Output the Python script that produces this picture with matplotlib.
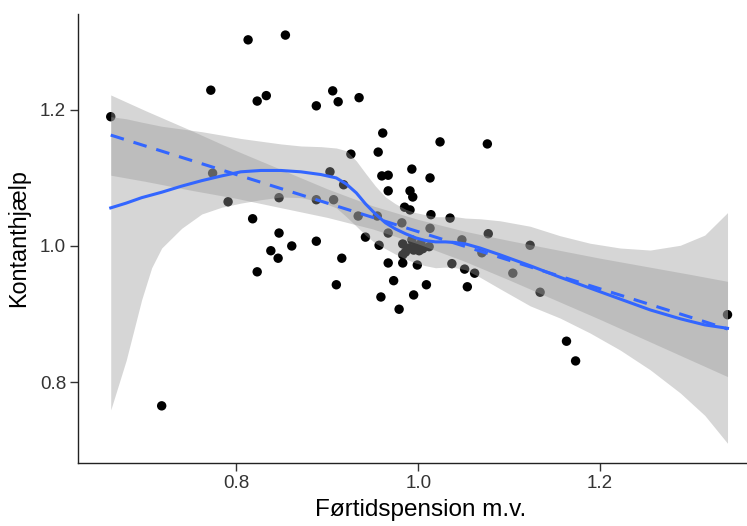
import matplotlib
matplotlib.use("Agg")
import matplotlib.pyplot as plt

plt.rcParams['font.family'] = ['Liberation Sans', 'DejaVu Sans']

# ---- scatter data (Førtidspension m.v. vs Kontanthjælp) ----
pts_x = [0.662, 0.813, 0.854, 0.772, 0.823, 0.833, 0.888, 0.906, 0.912, 0.935,
         0.774, 0.791, 0.818, 0.847, 0.847, 0.861, 0.838, 0.846, 0.823, 0.888,
         0.888, 0.903, 0.918, 0.926, 0.956, 0.961, 0.960, 0.967, 0.993, 1.013,
         0.967, 0.991, 0.994, 0.985, 0.991, 1.014, 1.035, 1.024, 1.076, 0.907,
         0.934, 0.955, 0.967, 0.982, 1.013, 0.916, 0.910, 0.942, 0.957, 0.967,
         0.973, 0.959, 0.979, 0.995, 0.999, 1.009, 0.983, 0.983, 1.037, 1.051,
         1.062, 1.054, 1.048, 1.070, 1.077, 1.104, 1.123, 1.134, 1.163, 1.173,
         1.340, 0.718, 0.983, 0.990, 0.995, 1.001, 1.005, 1.012, 0.993, 1.003,
         0.986, 0.998]
pts_y = [1.190, 1.303, 1.310, 1.229, 1.213, 1.221, 1.206, 1.228, 1.212, 1.218,
         1.107, 1.065, 1.040, 1.071, 1.019, 1.000, 0.993, 0.982, 0.962, 1.007,
         1.068, 1.109, 1.090, 1.135, 1.138, 1.166, 1.103, 1.104, 1.113, 1.100,
         1.081, 1.081, 1.072, 1.057, 1.053, 1.046, 1.041, 1.153, 1.150, 1.068,
         1.044, 1.044, 1.019, 1.034, 1.026, 0.982, 0.943, 1.013, 1.001, 0.975,
         0.949, 0.925, 0.907, 0.928, 0.972, 0.943, 0.987, 0.975, 0.974, 0.966,
         0.960, 0.940, 1.009, 0.990, 1.018, 0.960, 1.001, 0.932, 0.860, 0.831,
         0.899, 0.765, 1.003, 0.997, 0.994, 0.993, 0.996, 0.999, 1.009, 1.004,
         0.991, 1.000]

# ---- loess smooth (solid) and its confidence band ----
loess_x = [0.662, 0.679, 0.696, 0.707, 0.718, 0.740, 0.762, 0.784, 0.805, 0.827,
           0.849, 0.871, 0.893, 0.910, 0.921, 0.932, 0.942, 0.953, 0.964, 0.975,
           0.986, 0.997, 1.008, 1.019, 1.030, 1.041, 1.052, 1.068, 1.090, 1.123,
           1.156, 1.189, 1.222, 1.255, 1.288, 1.315, 1.340]
loess_fit = [1.056, 1.063, 1.071, 1.075, 1.079, 1.088, 1.096, 1.103, 1.109, 1.111,
             1.111, 1.109, 1.105, 1.100, 1.091, 1.078, 1.062, 1.047, 1.034, 1.025,
             1.018, 1.012, 1.008, 1.006, 1.006, 1.005, 1.003, 0.997, 0.987, 0.971,
             0.954, 0.938, 0.922, 0.906, 0.893, 0.884, 0.879]
loess_hi = [1.190, 1.187, 1.182, 1.179, 1.176, 1.172, 1.168, 1.163, 1.158, 1.154,
            1.150, 1.147, 1.146, 1.144, 1.140, 1.125, 1.107, 1.088, 1.072, 1.062,
            1.054, 1.049, 1.046, 1.043, 1.043, 1.043, 1.041, 1.040, 1.037, 1.029,
            1.015, 1.004, 0.997, 0.994, 1.001, 1.016, 1.049]
loess_lo = [0.759, 0.832, 0.921, 0.968, 0.997, 1.026, 1.047, 1.057, 1.063, 1.068,
            1.072, 1.071, 1.065, 1.056, 1.043, 1.029, 1.016, 1.004, 0.996, 0.988,
            0.981, 0.975, 0.971, 0.968, 0.969, 0.968, 0.965, 0.954, 0.937, 0.912,
            0.894, 0.872, 0.847, 0.818, 0.784, 0.751, 0.710]

# ---- linear fit (dashed) and its confidence band ----
lm_x = [0.662, 0.70, 0.75, 0.80, 0.85, 0.90, 0.95, 1.00, 1.05, 1.10, 1.15, 1.20,
        1.25, 1.30, 1.340]
lm_fit = [1.163, 1.147, 1.126, 1.105, 1.084, 1.063, 1.042, 1.021, 1.000, 0.979,
          0.958, 0.937, 0.916, 0.895, 0.878]
lm_hi = [1.222, 1.199, 1.170, 1.140, 1.112, 1.084, 1.059, 1.039, 1.022, 1.008,
         0.995, 0.982, 0.970, 0.958, 0.948]
lm_lo = [1.104, 1.095, 1.082, 1.070, 1.056, 1.042, 1.025, 1.003, 0.978, 0.950,
         0.921, 0.892, 0.862, 0.832, 0.808]

x_ticks = [0.8, 1.0, 1.2]
y_ticks = [0.8, 1.0, 1.2]
tick_labels_x = ["0.8", "1.0", "1.2"]
tick_labels_y = ["0.8", "1.0", "1.2"]

fig = plt.figure(figsize=(7.47, 5.26), dpi=100)
ax = fig.add_axes([0.1044, 0.1198, 0.917, 0.8536])

blue = "#3366FF"
ax.scatter(pts_x, pts_y, s=46, color="black", edgecolors="none", zorder=2)
ax.fill_between(lm_x, lm_lo, lm_hi, color="#999999", alpha=0.4, linewidth=0, zorder=3)
ax.fill_between(loess_x, loess_lo, loess_hi, color="#999999", alpha=0.4, linewidth=0, zorder=3)
ax.plot(lm_x, lm_fit, color=blue, linewidth=2.2, dashes=(4.5, 3.3), zorder=4,
        solid_capstyle="butt")
ax.plot(loess_x, loess_fit, color=blue, linewidth=2.2, zorder=5)

ax.set_xlim(0.626, 1.379)
ax.set_ylim(0.681, 1.341)
ax.set_xticks(x_ticks)
ax.set_xticklabels(tick_labels_x)
ax.set_yticks(y_ticks)
ax.set_yticklabels(tick_labels_y)

for s in ["top", "right"]:
    ax.spines[s].set_visible(False)
for s in ["left", "bottom"]:
    ax.spines[s].set_linewidth(1.0)
    ax.spines[s].set_color("#222222")

ax.tick_params(axis="both", length=5.5, width=1.0, color="#333333",
               labelsize=13.5, labelcolor="#333333", pad=3)
ax.set_xlabel("Førtidspension m.v.", fontsize=17.5, labelpad=5)
ax.set_ylabel("Kontanthjælp", fontsize=16.8, labelpad=7)

fig.savefig("out.png", dpi=100)
